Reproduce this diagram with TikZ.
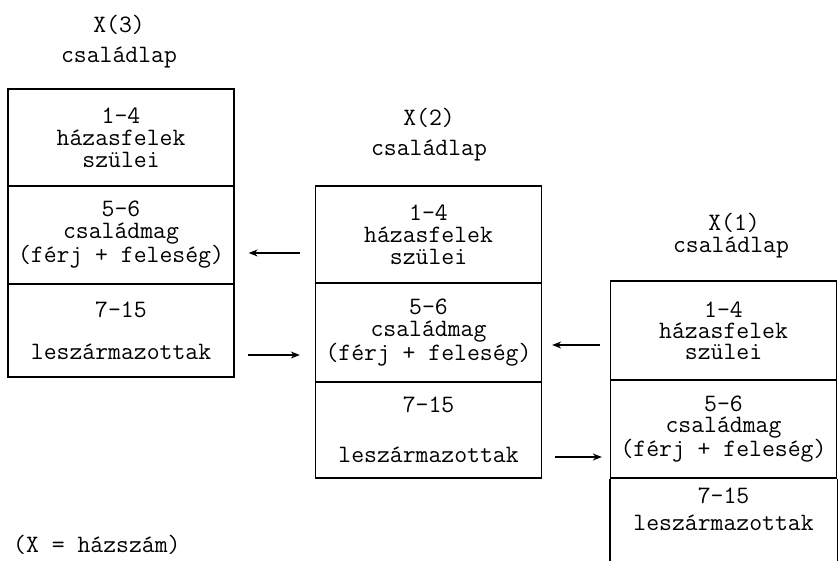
\documentclass[tikz,border=0pt]{standalone}
\usepackage{fontspec}
\usetikzlibrary{arrows.meta,calc}
\tikzset{
  cell/.style={draw, line width=1.3pt, minimum width=226pt, inner sep=0pt, align=center,
    font=\ttfamily\fontsize{25}{22}\selectfont},
  cellb/.style={cell, font=\ttfamily\fontsize{25}{21}\selectfont},
  title/.style={inner sep=0pt, font=\ttfamily\fontsize{25}{22}\selectfont},
  arr/.style={line width=1.3pt, -{Stealth[length=9pt,width=7pt]}},
  side/.style={line width=1.3pt}
}
\begin{document}
\begin{tikzpicture}[x=1pt,y=-1pt]
\fill[white] (0,0) rectangle (838,561);
\useasboundingbox (0,0) rectangle (838,561);
\clip (0,0) rectangle (838,561);
% X(3)
\node[title] (t3a) at (119,25) {X(3)};
\node[title] (t3b) at (119,57) {családlap};
\node[cell, minimum height=97pt] (b3a) at (121,137.5) {1-4\\házasfelek\\szülei};
\node[cell, minimum height=98pt] (b3b) at (121,235) {5-6\\családmag\\(férj + feleség)};
\node[cell, minimum height=93pt] (b3c) at (121,330.5) {7-15\\[20pt]leszármazottak};
% X(2)
\node[title] (t2a) at (429,118) {X(2)};
\node[title] (t2b) at (429,150) {családlap};
\node[cell, minimum height=97pt] (b2a) at (428.5,234.5) {1-4\\házasfelek\\szülei};
\node[cell, minimum height=99pt] (b2b) at (428.5,332.5) {5-6\\családmag\\(férj + feleség)};
\node[cell, minimum height=96pt] (b2c) at (428.5,430) {7-15\\[28pt]leszármazottak};
% X(1)
\node[title] (t1a) at (734,223) {X(1)};
\node[title] (t1b) at (731,247) {családlap};
\node[cellb, minimum height=99pt] (b1a) at (723.5,330.5) {1-4\\házasfelek\\szülei};
\node[cellb, minimum height=98pt] (b1b) at (723.5,429) {5-6\\családmag\\(férj + feleség)};
\node[cellb, draw=none, minimum height=62pt] (b1c) at (723.5,509) {7-15\\[6pt]leszármazottak};
\draw[side] (b1b.south west) -- ++(0,100);
\draw[side] (b1b.south east) -- ++(0,100);
% arrows
\draw[arr] ($(b2a.west)+(-15,18.5)$) -- ($(b3b.east)+(14,18)$);
\draw[arr] ($(b3c.east)+(13,24.5)$) -- ($(b2b.west)+(-15,22.5)$);
\draw[arr] ($(b1a.west)+(-10,14.5)$) -- ($(b2b.east)+(10,12.5)$);
\draw[arr] ($(b2c.east)+(13,27)$) -- ($(b1b.west)+(-8,28)$);
% note
\node[title, anchor=west] (note) at (13,545) {(X = házszám)};
\end{tikzpicture}
\end{document}
